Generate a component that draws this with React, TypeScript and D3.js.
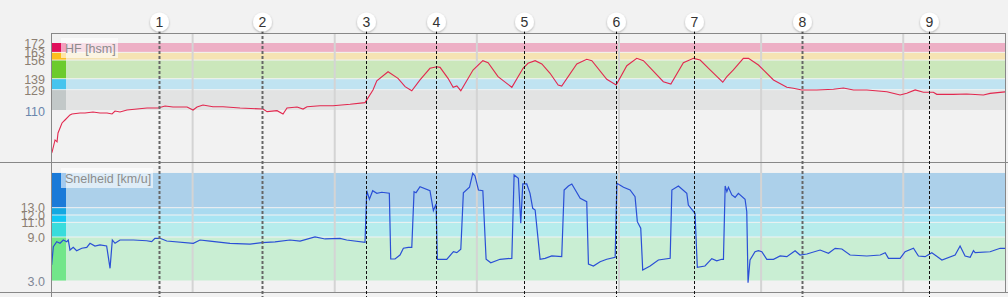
import React from "react";
import * as d3 from "d3";

// ---- data ----
const hrTime = [0, 0.11, 0.32, 0.46, 0.53, 0.81, 1.02, 1.37, 1.51, 2.08, 2.43, 2.99, 3.48, 3.98, 4.33, 4.54, 4.89, 5.38, 6.09, 6.79, 7.57, 8.06, 8.62, 9.61, 10.03, 10.31, 10.73, 11.43, 12.14, 13.34, 14.95, 15.24, 15.94, 16.36, 16.64, 17.35, 17.77, 18.05, 18.97, 19.88, 21.08, 22.13, 22.69, 22.96, 23.75, 24.45, 24.95, 25.42, 26.0, 26.7, 27.18, 27.41, 27.97, 28.33, 28.59, 28.87, 29.73, 30.42, 30.79, 31.49, 32.46, 33.25, 33.6, 34.1, 34.57, 35.15, 35.72, 35.97, 37.03, 37.73, 38.09, 39.14, 39.8, 40.55, 41.25, 41.72, 43.12, 43.65, 44.53, 45.24, 45.71, 46.41, 47.3, 47.59, 48.05, 48.75, 49.11, 49.81, 50.87, 51.81, 52.27, 52.86, 53.92, 55.09, 55.79, 56.5, 57.44, 58.85, 59.78, 60.25, 60.84, 61.42, 62.12, 62.36, 63.53, 64.47, 65.64, 66.11, 67.16];
const hrValue = [69.9, 72.6, 83.6, 81.8, 90, 99.1, 101.8, 106.4, 107.3, 108.2, 108.2, 109.1, 108.2, 108.2, 107.3, 110, 109.1, 110.9, 111.8, 112.7, 112.7, 114.6, 113.7, 113.7, 110.9, 113.7, 115.5, 113.9, 113.9, 112.7, 111.8, 109.4, 110.3, 107.3, 112.7, 113.7, 111.8, 113.9, 114.8, 114.8, 116.1, 117.6, 129.2, 137.6, 145.8, 139.8, 132.2, 128.5, 138.3, 148.9, 150.4, 149.8, 139.8, 131.6, 132.8, 128.5, 147.4, 155.9, 154, 141.3, 131.6, 148.9, 153.5, 155.9, 152.9, 144.4, 133.7, 132.8, 152.9, 157.1, 155.9, 138.9, 133.7, 151.3, 158, 155.9, 136.7, 134.6, 154, 158, 156.5, 147.4, 136.2, 141.3, 147.4, 158, 158, 151.9, 138.3, 131.6, 130.7, 129.2, 129.2, 129.8, 131, 129.2, 129.2, 127.6, 124.6, 126.1, 129.2, 127.1, 127.1, 125.2, 125.2, 125.5, 124.6, 126.1, 127.4];

const spTime = [0.08, 0.2, 0.44, 0.67, 0.9, 1.14, 1.25, 1.37, 1.6, 1.84, 2.2, 2.55, 2.78, 3.13, 3.48, 3.95, 4.19, 4.35, 4.54, 4.89, 5.83, 6.77, 7.12, 7.35, 7.71, 8.18, 10.05, 10.52, 11.22, 12.63, 14.04, 14.88, 15.8, 16.85, 17.56, 18.61, 19.32, 20.37, 20.84, 22.13, 22.25, 22.44, 22.67, 22.96, 23.31, 23.84, 23.94, 24.24, 24.59, 24.83, 25.18, 25.42, 25.58, 25.72, 26.0, 26.7, 26.94, 27.13, 27.22, 27.88, 28.35, 28.59, 28.87, 29.05, 29.48, 29.71, 29.87, 30.11, 30.42, 30.65, 30.98, 31.63, 32.46, 32.62, 32.92, 33.09, 33.23, 33.51, 33.74, 33.93, 34.1, 34.45, 34.8, 35.27, 35.97, 36.14, 36.44, 36.68, 37.27, 37.73, 37.85, 38.2, 38.67, 39.14, 39.73, 39.85, 40.32, 40.78, 41.13, 41.29, 41.53, 41.67, 42.19, 42.77, 43.6, 43.72, 44.18, 44.77, 44.88, 45.35, 45.51, 46.05, 46.53, 46.88, 47.23, 47.35, 47.47, 47.59, 47.7, 47.94, 48.17, 48.4, 48.87, 48.99, 49.08, 49.22, 49.57, 49.81, 50.05, 50.4, 50.87, 51.34, 51.81, 52.39, 52.74, 53.22, 54.15, 54.74, 55.21, 55.68, 56.26, 57.44, 58.38, 58.73, 58.96, 59.78, 60.13, 60.72, 61.07, 61.54, 62.01, 62.72, 63.65, 64.0, 64.35, 64.71, 64.94, 65.06, 66.11, 66.82, 67.16];
const spValue = [5.25, 7.74, 8.43, 8.21, 8.66, 8.43, 8.66, 7.29, 7.66, 7.2, 7.53, 7.66, 8.21, 7.84, 7.98, 7.84, 4.8, 8.66, 8.21, 8.66, 8.66, 8.56, 8.43, 8.89, 8.89, 8.52, 8.21, 8.66, 8.5, 8.2, 8.11, 8.3, 8.4, 8.66, 8.52, 9.07, 8.8, 8.89, 8.66, 8.35, 15.38, 14.21, 15.38, 15.03, 15.17, 15.03, 6.07, 6.07, 6.61, 7.53, 7.66, 7.66, 15.25, 15.11, 15.93, 15.38, 12.66, 13.57, 6.03, 6.03, 7.06, 6.93, 7.39, 15.11, 15.85, 17.76, 17.39, 15.48, 15.38, 6.03, 5.56, 6.03, 6.16, 17.53, 17.08, 10.94, 16.3, 16.3, 15.03, 12.98, 12.75, 6.03, 6.16, 6.48, 6.38, 15.48, 16.03, 16.3, 14.35, 13.88, 5.38, 5.11, 5.7, 6.03, 6.3, 16.39, 15.85, 15.48, 14.57, 11.16, 10.26, 4.57, 5.11, 5.93, 6.16, 15.48, 16.03, 15.03, 13.43, 12.3, 4.93, 5.11, 6.11, 5.83, 6.03, 6.03, 16.03, 15.25, 15.85, 14.8, 14.48, 15.03, 14.21, 12.52, 2.83, 5.93, 7.06, 7.2, 7.06, 6.03, 6.03, 6.48, 6.38, 7.2, 6.61, 6.75, 7.29, 6.84, 7.53, 7.43, 6.61, 6.48, 6.61, 6.93, 6.16, 6.16, 7.06, 7.53, 6.48, 6.38, 6.93, 5.93, 6.61, 7.84, 6.48, 6.3, 7.2, 6.93, 7.06, 7.53, 7.53];

const hrZoneBounds = [172, 163, 156, 139, 129, 110];
const hrZoneFill = ["#edafc5", "#f5e3b3", "#cbe7bb", "#c0e3f1", "#e2e3e3"];
const hrZoneSide = ["#e0105c", "#fdbe1e", "#6ccb2c", "#45c4ee", "#c2c8c8"];
const hrTicks = [172, 163, 156, 139, 129, 110];

const spZoneBounds = [17.8, 13, 12, 11, 9, 3];
const spZoneFill = ["#acd0ea", "#a9daf0", "#a8e4f3", "#b6ecec", "#c9eed3"];
const spZoneSide = ["#1a7ad8", "#12a8e2", "#10c8f5", "#38dcdc", "#72e68a"];
const spTicks = [13, 12, 11, 9, 3];
const spTickLabels = ["13.0", "12.0", "11.0", "9.0", "3.0"];

const gridTimes = [10, 20, 30, 40, 50, 60];
const lapTimes = [7.64, 14.88, 22.2, 27.1, 33.3, 39.8, 45.3, 52.9, 61.8];
const lapLabels = ["1", "2", "3", "4", "5", "6", "7", "8", "9"];
const grayLaps = new Set([0, 1, 7]);

const W = 1008;
const H = 297;
const FONT = "'Liberation Sans', Arial, sans-serif";

export default function App() {
  const left = 51;
  const right = 1005;
  const x = d3.scaleLinear().domain([0, 67.16]).range([50.5, 1005]);
  const yHR = d3.scaleLinear().domain([110, 172]).range([111, 43]);
  const ySp = d3.scaleLinear().domain([3, 9]).range([281.5, 237.5]);

  const hrLine = d3
    .line<number>()
    .x((_, i) => x(hrTime[i]))
    .y((d) => yHR(d));
  const spLine = d3
    .line<number>()
    .x((_, i) => x(spTime[i]))
    .y((d) => ySp(d));

  return (
    <svg
      width={W}
      height={H}
      style={{ position: "absolute", left: 0, top: 0, background: "#f2f2f2", fontFamily: FONT }}
    >
      <defs>
        <filter id="sh" x="-50%" y="-50%" width="200%" height="200%">
          <feDropShadow dx="0" dy="1" stdDeviation="1.2" floodColor="#000" floodOpacity="0.3" />
        </filter>
        <clipPath id="clipTop">
          <rect x={left} y={33} width={right - left} height={129} />
        </clipPath>
        <clipPath id="clipBot">
          <rect x={left} y={162} width={right - left} height={130} />
        </clipPath>
      </defs>

      {/* HR zones */}
      {hrZoneFill.map((f, i) => {
        const y0 = yHR(hrZoneBounds[i]);
        const y1 = yHR(hrZoneBounds[i + 1]);
        return (
          <g key={"hz" + i}>
            <rect x={left} y={y0} width={right - left} height={y1 - y0 - 1} fill={f} />
            <rect x={left} y={y0} width={15} height={y1 - y0 - 1} fill={hrZoneSide[i]} />
          </g>
        );
      })}
      {/* speed zones */}
      {spZoneFill.map((f, i) => {
        const y0 = ySp(spZoneBounds[i]);
        const y1 = ySp(spZoneBounds[i + 1]);
        return (
          <g key={"sz" + i}>
            <rect x={left} y={y0} width={right - left} height={y1 - y0 - 1} fill={f} />
            <rect x={left} y={y0} width={15} height={y1 - y0 - 1} fill={spZoneSide[i]} />
          </g>
        );
      })}

      {/* grid */}
      {gridTimes.map((t) => (
        <line key={"g" + t} x1={x(t)} x2={x(t)} y1={33} y2={292} stroke="#d4d4d4" strokeWidth={2} />
      ))}

      {/* lines */}
      <path d={hrLine(hrValue) || ""} fill="none" stroke="#e2284f" strokeWidth={1.1} clipPath="url(#clipTop)" />
      <path d={spLine(spValue) || ""} fill="none" stroke="#2a4fd6" strokeWidth={1.2} clipPath="url(#clipBot)" />

      {/* frame */}
      <line x1={left} x2={right} y1={33.5} y2={33.5} stroke="#888" strokeWidth={1} />
      <line x1={0} x2={W} y1={162.5} y2={162.5} stroke="#888" strokeWidth={1} />
      <line x1={0} x2={W} y1={292.5} y2={292.5} stroke="#888" strokeWidth={1} />
      <line x1={left + 0.5} x2={left + 0.5} y1={33} y2={H} stroke="#888" strokeWidth={1} />
      <line x1={right + 0.5} x2={right + 0.5} y1={33} y2={292} stroke="#888" strokeWidth={1} />

      {/* panel labels */}
      <rect x={61} y={38} width={57} height={20} fill="#ffffff" opacity={0.6} />
      <text x={65} y={52.5} fontSize={12.5} fill="#8c8c8c">HF [hsm]</text>
      <rect x={61} y={168} width={92} height={20} fill="#ffffff" opacity={0.6} />
      <text x={65} y={182.5} fontSize={12.5} fill="#8c8c8c">Snelheid [km/u]</text>

      {/* y tick labels */}
      {hrTicks.map((v) => (
        <text key={"ht" + v} x={45} y={yHR(v) + 4.5} fontSize={12.5} textAnchor="end" fill={v === 110 ? "#6a86ad" : "#8c7f72"}>
          {v}
        </text>
      ))}
      {spTicks.map((v, i) => (
        <text key={"st" + v} x={45} y={ySp(v) + 4} fontSize={12.5} textAnchor="end" fill={v === 3 ? "#7f8796" : "#8c7f72"}>
          {spTickLabels[i]}
        </text>
      ))}

      {/* laps */}
      {lapTimes.map((t, i) => {
        const gx = Math.round(x(t)) + 0.5;
        const gray = grayLaps.has(i);
        return (
          <g key={"lap" + i}>
            <line
              x1={gx}
              x2={gx}
              y1={31}
              y2={H}
              stroke={gray ? "#666" : "#111"}
              strokeWidth={gray ? 2 : 1}
              strokeDasharray="3,2"
            />
            <circle cx={gx} cy={22} r={9.5} fill="#fff" filter="url(#sh)" />
            <text x={gx} y={27} fontSize={14} textAnchor="middle" fill="#333">
              {lapLabels[i]}
            </text>
          </g>
        );
      })}
    </svg>
  );
}
